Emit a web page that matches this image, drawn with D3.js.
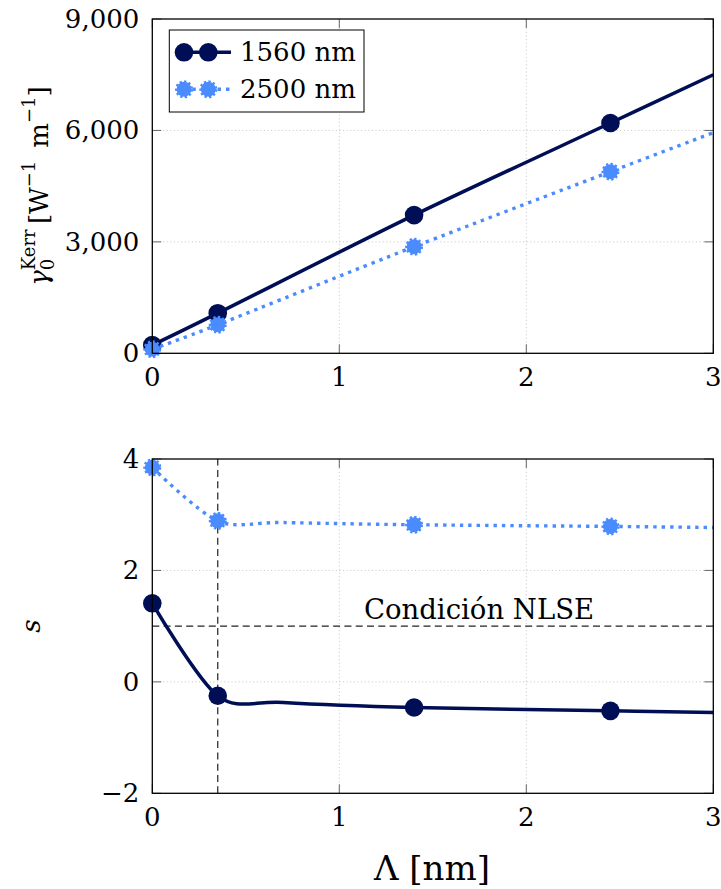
<!DOCTYPE html>
<html>
<head>
<meta charset="utf-8">
<script src="https://cdn.jsdelivr.net/npm/d3@7"></script>
<style>
  body { margin: 0; background: #fff; }
</style>
</head>
<body>
<svg id="chart" width="721" height="889"></svg>
<script>
// data
const lambdaTop = [0, 0.35, 1.4, 2.45, 3];
const gamma1560 = [220, 1080, 3720, 6200, 7500];
const gamma2500 = [110, 770, 2870, 4890, 5940];

const lambdaBottom = [0, 0.35, 0.7, 1.4, 2.45, 3];
const s1560 = [1.41, -0.25, -0.37, -0.46, -0.52, -0.55];
const s2500 = [3.85, 2.89, 2.86, 2.82, 2.79, 2.77];

const markedLambda = [0, 0.35, 1.4, 2.45];
const xTicks = [0, 1, 2, 3];
const gammaTicks = [0, 3000, 6000, 9000];
const sTicks = [-2, 0, 2, 4];
const nlseLevel = 1;
const cutLambda = 0.35;

const series = [
  { name: "1560 nm", color: "#000f55", dotted: false },
  { name: "2500 nm", color: "#4a8cff", dotted: true }
];

const svg = d3.select("#chart");
const serif = "'DejaVu Serif', 'Liberation Serif', serif";
const left = 152.3, right = 713.3;
const fontSize = 26;

const x = d3.scaleLinear().domain([0, 3]).range([left, right]);
const yTop = d3.scaleLinear().domain([0, 9000]).range([353.3, 19]);
const yBot = d3.scaleLinear().domain([-2, 4]).range([793.3, 459]);

function txt(g) {
  return g.append("text").style("font-family", serif).attr("fill", "#000");
}

function drawFrame(y, yTicks, fmt) {
  const g = svg.append("g");
  const [y0, y1] = y.range();
  // grid
  g.selectAll(".gx").data(xTicks.slice(1, -1)).enter().append("line")
    .attr("x1", d => x(d)).attr("x2", d => x(d)).attr("y1", y0).attr("y2", y1)
    .attr("stroke", "#c4c4c4").attr("stroke-width", 1).attr("stroke-dasharray", "1 2.6");
  g.selectAll(".gy").data(yTicks.slice(1, -1)).enter().append("line")
    .attr("x1", left).attr("x2", right).attr("y1", d => y(d)).attr("y2", d => y(d))
    .attr("stroke", "#c4c4c4").attr("stroke-width", 1).attr("stroke-dasharray", "1 2.6");
  // inner ticks on all sides
  const tl = 9;
  xTicks.forEach(t => {
    g.append("line").attr("x1", x(t)).attr("x2", x(t)).attr("y1", y0).attr("y2", y0 - tl)
      .attr("stroke", "#666").attr("stroke-width", 1);
    g.append("line").attr("x1", x(t)).attr("x2", x(t)).attr("y1", y1).attr("y2", y1 + tl)
      .attr("stroke", "#666").attr("stroke-width", 1);
  });
  yTicks.forEach(t => {
    g.append("line").attr("x1", left).attr("x2", left + tl).attr("y1", y(t)).attr("y2", y(t))
      .attr("stroke", "#666").attr("stroke-width", 1);
    g.append("line").attr("x1", right).attr("x2", right - tl).attr("y1", y(t)).attr("y2", y(t))
      .attr("stroke", "#666").attr("stroke-width", 1);
  });
  // tick labels
  xTicks.forEach(t => {
    txt(g).attr("x", x(t)).attr("y", y0 + 33)
      .attr("text-anchor", "middle").attr("font-size", fontSize).text(t);
  });
  yTicks.forEach(t => {
    txt(g).attr("x", left - 13).attr("y", y(t) + 9)
      .attr("text-anchor", "end").attr("font-size", fontSize).text(fmt(t));
  });
  return g;
}

function frameBox(y) {
  const [y0, y1] = y.range();
  svg.append("rect").attr("x", left).attr("y", y1)
    .attr("width", right - left).attr("height", y0 - y1)
    .attr("fill", "none").attr("stroke", "#000").attr("stroke-width", 1.3);
}

function drawSeries(g, xs, ys, y, s) {
  const line = d3.line().x((d, i) => x(xs[i])).y(d => y(d)).curve(d3.curveCardinal.tension(0.1));
  g.append("path").datum(ys)
    .attr("d", line)
    .attr("fill", "none").attr("stroke", s.color)
    .attr("stroke-width", s.dotted ? 3.4 : 3.5)
    .attr("stroke-dasharray", s.dotted ? "3.4 5" : null);
  const pts = xs.map((v, i) => [v, ys[i]]).filter(p => markedLambda.includes(p[0]));
  drawMarkers(g, pts.map(p => [x(p[0]), y(p[1])]), s);
}

function drawMarkers(g, pts, s) {
  g.selectAll(null).data(pts).enter().append("circle")
    .attr("cx", d => d[0]).attr("cy", d => d[1])
    .attr("r", s.dotted ? 7.5 : 9.3)
    .attr("fill", s.color)
    .attr("stroke", s.dotted ? s.color : "none")
    .attr("stroke-width", s.dotted ? 3 : 0)
    .attr("stroke-dasharray", s.dotted ? "2.2 2.2" : null);
}

// ---- top panel
const gTop = drawFrame(yTop, gammaTicks, d3.format(","));
drawSeries(gTop, lambdaTop, gamma1560, yTop, series[0]);
drawSeries(gTop, lambdaTop, gamma2500, yTop, series[1]);
frameBox(yTop);

// legend
const lg = svg.append("g");
lg.append("rect").attr("x", 169.3).attr("y", 30).attr("width", 194.7).attr("height", 82)
  .attr("fill", "#fff").attr("stroke", "#000").attr("stroke-width", 1);
series.forEach((s, i) => {
  const ly = 52.3 + i * 37;
  lg.append("line").attr("x1", 184).attr("x2", 231).attr("y1", ly).attr("y2", ly)
    .attr("stroke", s.color).attr("stroke-width", 3.5)
    .attr("stroke-dasharray", s.dotted ? "3.4 5" : null);
  drawMarkers(lg, [[184, ly], [208.3, ly]], s);
  txt(lg).attr("x", 240).attr("y", ly + 9).attr("font-size", fontSize).text(s.name);
});

// rotated math label built from pieces (scripts stacked like TeX)
function mathLabel(cx, cy, parts) {
  const g = svg.append("g").attr("transform", `translate(${cx},${cy}) rotate(-90)`);
  let pos = 0;
  parts.forEach(p => {
    let w = 0;
    p.forEach(q => {
      const t = txt(g).attr("x", pos).attr("y", q.dy || 0)
        .attr("font-size", q.size).attr("font-style", q.italic ? "italic" : null).text(q.t);
      w = Math.max(w, t.node().getComputedTextLength());
    });
    pos += w;
  });
  g.selectAll("text").attr("x", function () { return +d3.select(this).attr("x") - pos / 2; });
  return g;
}
const big = 26, sup = 18;
mathLabel(48, 186, [
  [{ t: "γ", size: big, italic: true }],
  [{ t: "Kerr", size: sup, dy: -13 }, { t: "0", size: sup, dy: 6 }],
  [{ t: "\u2009[W", size: big }],
  [{ t: "−1", size: sup, dy: -13 }],
  [{ t: "\u2002m", size: big }],
  [{ t: "−1", size: sup, dy: -13 }],
  [{ t: "]", size: big }]
]);

// ---- bottom panel
const gBot = drawFrame(yBot, sTicks, d => d < 0 ? "−" + Math.abs(d) : d);
gBot.append("line").attr("x1", left).attr("x2", right)
  .attr("y1", yBot(nlseLevel)).attr("y2", yBot(nlseLevel))
  .attr("stroke", "#222").attr("stroke-width", 1.2).attr("stroke-dasharray", "7 4.3");
gBot.append("line").attr("x1", x(cutLambda)).attr("x2", x(cutLambda))
  .attr("y1", yBot.range()[0]).attr("y2", yBot.range()[1])
  .attr("stroke", "#222").attr("stroke-width", 1.2).attr("stroke-dasharray", "7 4.3");
txt(gBot).attr("x", 479).attr("y", yBot(nlseLevel) - 7)
  .attr("text-anchor", "middle").attr("font-size", 27.5).text("Condición NLSE");
drawSeries(gBot, lambdaBottom, s1560, yBot, series[0]);
drawSeries(gBot, lambdaBottom, s2500, yBot, series[1]);
frameBox(yBot);

mathLabel(40, 626, [[{ t: "s", size: big, italic: true }]]);

txt(svg).attr("x", 432).attr("y", 880)
  .attr("text-anchor", "middle").attr("font-size", 34).text("Λ [nm]");
</script>
</body>
</html>
